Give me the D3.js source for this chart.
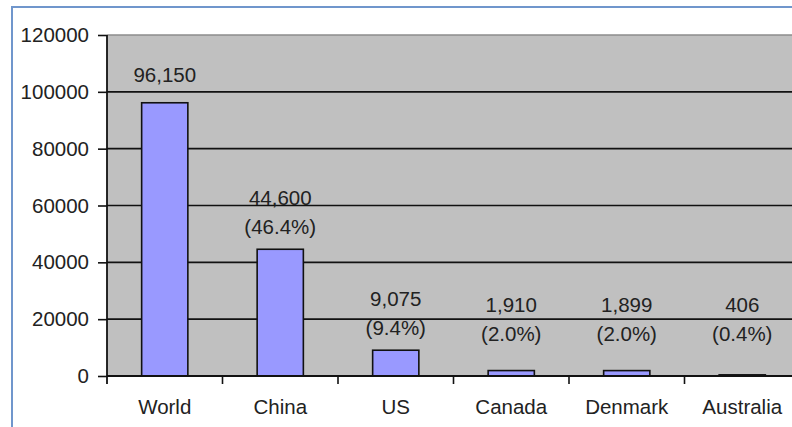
<!DOCTYPE html>
<html>
<head>
<meta charset="utf-8">
<script src="https://cdn.jsdelivr.net/npm/d3@7"></script>
<style>
  html, body { margin: 0; padding: 0; background: #fff; }
  svg { display: block; font-family: "Liberation Sans", Arial, sans-serif; }
</style>
</head>
<body>
<div id="chart"></div>
<script>
// chart data
const countries = ["World", "China", "US", "Canada", "Denmark", "Australia"];
const capacity = [96150, 44600, 9075, 1910, 1899, 406];
const valueLabels = ["96,150", "44,600", "9,075", "1,910", "1,899", "406"];
const shareLabels = [null, "(46.4%)", "(9.4%)", "(2.0%)", "(2.0%)", "(0.4%)"];
const yTicks = [0, 20000, 40000, 60000, 80000, 100000, 120000];

const W = 792, H = 427;
const margin = { top: 35, left: 107, bottom: 51 };
const plotW = 693, plotH = H - margin.top - margin.bottom;

const svg = d3.select("#chart").append("svg")
    .attr("width", W)
    .attr("height", H);

// outer chart frame (blue)
svg.append("rect")
    .attr("x", 12).attr("y", 7)
    .attr("width", W + 20).attr("height", H + 20)
    .attr("fill", "#fff")
    .attr("stroke", "#7096cc")
    .attr("stroke-width", 2);

const g = svg.append("g")
    .attr("transform", `translate(${margin.left},${margin.top})`);

const x = d3.scaleBand()
    .domain(countries)
    .range([0, plotW])
    .paddingInner(0.6)
    .paddingOuter(0.3);

const y = d3.scaleLinear()
    .domain([0, 120000])
    .range([plotH, 0]);

// grey plot area
g.append("rect")
    .attr("width", plotW)
    .attr("height", plotH)
    .attr("fill", "#c0c0c0");

// top border of the plot area
g.append("line")
    .attr("x1", 0).attr("x2", plotW)
    .attr("y1", 0).attr("y2", 0)
    .attr("stroke", "#8c8c8c")
    .attr("stroke-width", 1.5);

// gridlines
g.selectAll(".grid")
    .data(yTicks.filter(d => d > 0 && d < 120000))
    .enter().append("line")
    .attr("class", "grid")
    .attr("x1", 0).attr("x2", plotW)
    .attr("y1", d => y(d)).attr("y2", d => y(d))
    .attr("stroke", "#111")
    .attr("stroke-width", 1.6);

// y axis
const yAxis = g.append("g")
    .call(d3.axisLeft(y).tickValues(yTicks).tickSize(9).tickPadding(9).tickFormat(d3.format("d")));
yAxis.select(".domain").remove();
yAxis.selectAll(".tick line").attr("stroke", "#111").attr("stroke-width", 1.6);
yAxis.selectAll("text")
    .attr("fill", "#222")
    .style("font-size", "20.5px")
    .style("font-family", "'Liberation Sans', Arial, sans-serif");

g.append("line")
    .attr("x1", 0).attr("x2", 0)
    .attr("y1", 0).attr("y2", plotH + 8)
    .attr("stroke", "#111")
    .attr("stroke-width", 1.8);

// bars
g.selectAll(".bar")
    .data(countries)
    .enter().append("rect")
    .attr("class", "bar")
    .attr("x", d => x(d))
    .attr("width", x.bandwidth())
    .attr("y", (d, i) => y(capacity[i]))
    .attr("height", (d, i) => plotH - y(capacity[i]))
    .attr("fill", "#9999ff")
    .attr("stroke", "#111")
    .attr("stroke-width", 1.6);

// x axis
g.append("line")
    .attr("x1", 0).attr("x2", plotW)
    .attr("y1", plotH).attr("y2", plotH)
    .attr("stroke", "#111")
    .attr("stroke-width", 1.8);

const step = x.step();
g.selectAll(".xtick")
    .data(countries.slice(1))
    .enter().append("line")
    .attr("class", "xtick")
    .attr("x1", d => x(d) - x.paddingInner() * step / 2 - (x.bandwidth() * 0))
    .attr("x2", d => x(d) - x.paddingInner() * step / 2)
    .attr("y1", plotH).attr("y2", plotH + 8)
    .attr("stroke", "#111")
    .attr("stroke-width", 1.6);

g.selectAll(".xlabel")
    .data(countries)
    .enter().append("text")
    .attr("class", "xlabel")
    .attr("x", d => x(d) + x.bandwidth() / 2)
    .attr("y", plotH + 31)
    .attr("dy", "0.35em")
    .attr("text-anchor", "middle")
    .attr("fill", "#222")
    .style("font-size", "20.5px")
    .text(d => d);

// data labels (two lines, kept above the bars)
const labels = g.selectAll(".dlabel")
    .data(countries)
    .enter().append("g")
    .attr("class", "dlabel")
    .attr("transform", (d, i) => {
        const bottom = Math.min(y(capacity[i]) - 22, plotH - 42);
        return `translate(${x(d) + x.bandwidth() / 2},${bottom})`;
    });

labels.append("text")
    .attr("y", (d, i) => shareLabels[i] ? -29 : -6)
    .attr("dy", "0.35em")
    .attr("text-anchor", "middle")
    .attr("fill", "#222")
    .style("font-size", "20.5px")
    .text((d, i) => valueLabels[i]);

labels.append("text")
    .attr("y", 0)
    .attr("dy", "0.35em")
    .attr("text-anchor", "middle")
    .attr("fill", "#222")
    .style("font-size", "20.5px")
    .text((d, i) => shareLabels[i] || "");
</script>
</body>
</html>
